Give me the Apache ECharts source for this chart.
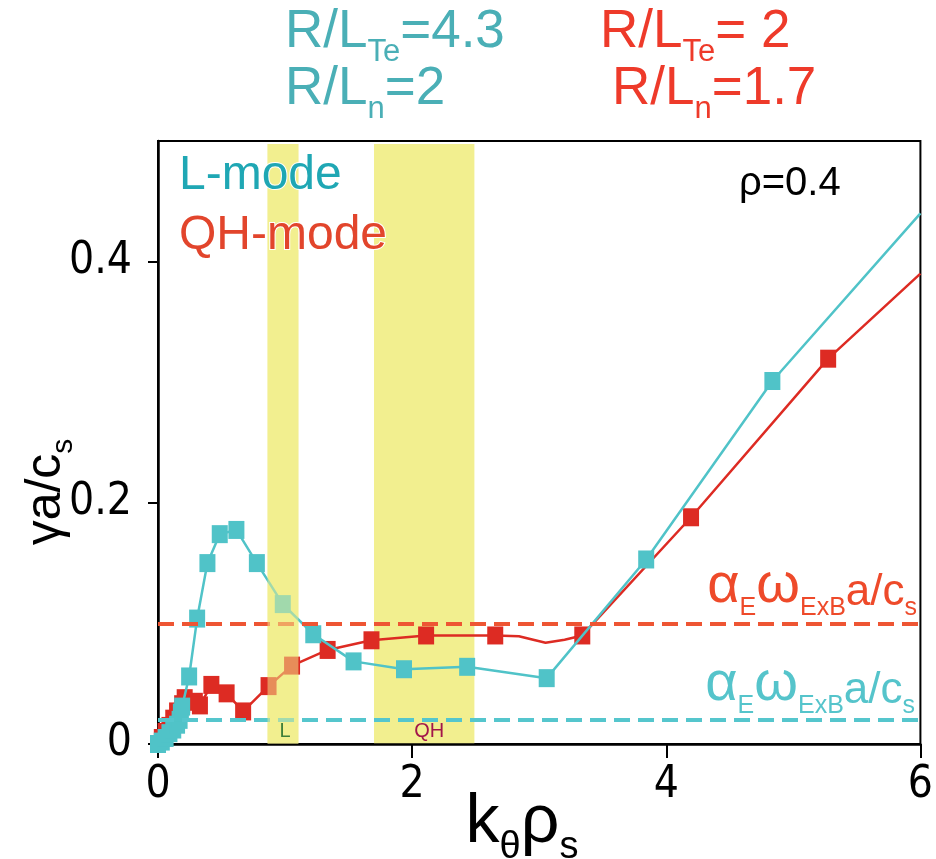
<!DOCTYPE html>
<html><head><meta charset="utf-8">
<script src="https://cdn.jsdelivr.net/npm/echarts@6/dist/echarts.min.js"></script>
<style>html,body{margin:0;padding:0;background:#fff}#c{width:936px;height:859px}</style>
</head><body><div id="c"></div>
<script>
// ---- data ----
const xTicks = [0, 2, 4, 6];
const yTicks = [0, 0.2, 0.4];
const lModeK     = [0.0, 0.03, 0.06, 0.09, 0.12, 0.15, 0.17, 0.18, 0.19, 0.245, 0.308, 0.389, 0.486, 0.617, 0.778, 0.982, 1.222, 1.539, 1.936, 2.433, 3.059, 3.842, 4.835];
const lModeGamma = [0.0, 0.002, 0.005, 0.009, 0.012, 0.016, 0.020, 0.026, 0.031, 0.056, 0.104, 0.150, 0.174, 0.1775, 0.150, 0.116, 0.091, 0.0685, 0.062, 0.064, 0.0546, 0.153, 0.301];
const lModeCurveK     = [6.0];
const lModeCurveGamma = [0.440];
const qhK     = [0.0, 0.03, 0.06, 0.09, 0.12, 0.15, 0.19, 0.21, 0.29, 0.33, 0.42, 0.54, 0.67, 0.87, 1.055, 1.335, 1.68, 2.11, 2.654, 3.339, 4.195, 5.274];
const qhGamma = [0.0, 0.005, 0.010, 0.015, 0.021, 0.027, 0.033, 0.038, 0.035, 0.032, 0.049, 0.042, 0.027, 0.048, 0.065, 0.078, 0.086, 0.090, 0.090, 0.090, 0.188, 0.3195];
const qhCurveK     = [2.84, 3.05, 3.20, 6.0];
const qhCurveGamma = [0.0893, 0.084, 0.0865, 0.390];
const exbLevels = [0.0965, 0.0225];   // QH-mode, L-mode  alpha_E * omega_ExB a/c_s
const bandNames = ['L', 'QH'];
const bandStart = [0.862, 1.70];
const bandEnd   = [1.105, 2.49];

// ---- styling ----
const CYAN = '#50C3C8', RED = '#DD2B23';
const NARROW = "'Liberation Sans Narrow','DejaVu Sans Condensed',sans-serif";
const SANS = "'Liberation Sans',Arial,sans-serif";
const Y_MIN = 0, Y_MAX = 0.5;

function lineData(k, g, ck, cg) {
  const pts = k.map((x, i) => ({ value: [x, g[i]] }));
  ck.forEach((x, i) => pts.push({ value: [x, cg[i]], symbol: 'none' }));
  pts.sort((a, b) => a.value[0] - b.value[0]);
  return pts;
}

function bandRect(fill) {
  return function (params, api) {
    const p0 = api.coord([api.value(0), Y_MAX]);
    const p1 = api.coord([api.value(1), Y_MIN]);
    return { type: 'rect', shape: { x: p0[0], y: p0[1] + 3, width: p1[0] - p0[0], height: p1[1] - p0[1] - 3 }, style: { fill: fill } };
  };
}
const bandData = bandStart.map((s, i) => [s, bandEnd[i], i]);
const bandLabelColors = ['#3F7F3A', '#A3164A'];

const mainRich = (big, sub, pad) => ({ m: { fontSize: big, verticalAlign: 'bottom', padding: [0, 0, pad, 0] }, s: { fontSize: sub, verticalAlign: 'bottom' } });

const chart = echarts.init(document.getElementById('c'), null, { renderer: 'canvas' });
chart.setOption({
  animation: false,
  backgroundColor: '#fff',
  grid: { left: 158, right: 13, top: 141, bottom: 115, show: true, borderColor: '#000', borderWidth: 2, backgroundColor: 'transparent' },
  xAxis: {
    type: 'value', min: xTicks[0], max: xTicks[xTicks.length - 1], interval: 2,
    axisLine: { lineStyle: { color: '#000', width: 2.5 } },
    axisTick: { inside: false, length: 14, lineStyle: { color: '#000', width: 2 } },
    axisLabel: { fontSize: 44, color: '#000', fontFamily: NARROW, margin: 20 },
    splitLine: { show: false }
  },
  yAxis: {
    type: 'value', min: Y_MIN, max: Y_MAX,
    axisLine: { lineStyle: { color: '#000', width: 2.5 } },
    axisTick: { inside: false, length: 10, lineStyle: { color: '#000', width: 2 }, customValues: yTicks },
    axisLabel: { fontSize: 44, color: '#000', fontFamily: NARROW, margin: 26, customValues: yTicks,
      formatter: v => (v === 0 ? '0' : v.toFixed(1)) },
    splitLine: { show: false }
  },
  series: [
    { type: 'custom', z: 0, renderItem: bandRect('#F2EF8F'), data: bandData, silent: true },
    { type: 'line', z: 1, data: [], silent: true,
      markLine: { silent: true, symbol: ['none', 'none'], label: { show: false },
        data: [
          { yAxis: exbLevels[0], lineStyle: { color: '#EE5533', type: [16, 8], width: 4 } },
          { yAxis: exbLevels[1], lineStyle: { color: '#55C6CD', type: [16, 8], width: 4 } }
        ] } },
    { name: 'QH-mode', type: 'line', z: 3, smooth: false,
      data: lineData(qhK, qhGamma, qhCurveK, qhCurveGamma),
      symbol: 'rect', symbolSize: [16, 18], showAllSymbol: true,
      lineStyle: { color: RED, width: 2.5 }, itemStyle: { color: RED } },
    { name: 'L-mode', type: 'line', z: 4, smooth: false,
      data: lineData(lModeK, lModeGamma, lModeCurveK, lModeCurveGamma),
      symbol: 'rect', symbolSize: [16, 18], showAllSymbol: true,
      lineStyle: { color: CYAN, width: 2.5 }, itemStyle: { color: CYAN } },
    { type: 'custom', z: 6, renderItem: bandRect('rgba(242,239,143,0.5)'), data: bandData.filter(d => d[2] === 0), silent: true },
    { type: 'custom', z: 7, silent: true, data: bandData,
      renderItem: function (params, api) {
        const i = api.value(2);
        const c = api.coord([(api.value(0) + api.value(1)) / 2, Y_MIN]);
        return { type: 'text', x: c[0] + (i === 1 ? 5 : 2), y: c[1] - 13,
          style: { text: bandNames[i], fill: bandLabelColors[i], fontSize: 20, fontFamily: SANS, align: 'center', verticalAlign: 'middle' } };
      } }
  ],
  graphic: [
    // top parameter labels
    { type: 'text', x: 285, y: 37, style: { text: '{m|R/L}{s|Te}{m|=4.3}', fill: '#4AAFB6', fontFamily: SANS, verticalAlign: 'middle', rich: mainRich(53, 31, 9) } },
    { type: 'text', x: 285, y: 94, style: { text: '{m|R/L}{s|n}{m|=2}', fill: '#4AAFB6', fontFamily: SANS, verticalAlign: 'middle', rich: mainRich(53, 31, 9) } },
    { type: 'text', x: 600, y: 37, style: { text: '{m|R/L}{s|Te}{m|= 2}', fill: '#EE3A2A', fontFamily: SANS, verticalAlign: 'middle', rich: mainRich(53, 31, 9) } },
    { type: 'text', x: 612, y: 94, style: { text: '{m|R/L}{s|n}{m|=1.7}', fill: '#EE3A2A', fontFamily: SANS, verticalAlign: 'middle', rich: mainRich(53, 31, 9) } },
    // legend-like labels
    { type: 'text', x: 179, y: 176, z: 10, style: { text: 'L-mode', fill: '#1FA7B4', fontSize: 48, fontFamily: SANS, verticalAlign: 'middle', stroke: '#fff', lineWidth: 2 } },
    { type: 'text', x: 179, y: 236, z: 10, style: { text: 'QH-mode', fill: '#E2452C', fontSize: 48, fontFamily: SANS, verticalAlign: 'middle', stroke: '#fff', lineWidth: 2 } },
    { type: 'text', x: 739, y: 184, z: 10, style: { text: 'ρ=0.4', fill: '#000', fontSize: 40, fontFamily: SANS, verticalAlign: 'middle' } },
    // ExB labels
    { type: 'text', x: 917, y: 590, z: 10, style: { text: '{g|α}{s|E}{g|ω}{s|ExB}{m|a/c}{s|s}', fill: '#EE4A2A', fontFamily: SANS, align: 'right', verticalAlign: 'middle',
      rich: { g: { fontSize: 56, verticalAlign: 'bottom', padding: [0, 0, 6, 0] }, m: { fontSize: 44, verticalAlign: 'bottom', padding: [0, 0, 6, 0] }, s: { fontSize: 25, verticalAlign: 'bottom' } } } },
    { type: 'text', x: 915, y: 688, z: 10, style: { text: '{g|α}{s|E}{g|ω}{s|ExB}{m|a/c}{s|s}', fill: '#55C4CB', fontFamily: SANS, align: 'right', verticalAlign: 'middle',
      rich: { g: { fontSize: 56, verticalAlign: 'bottom', padding: [0, 0, 6, 0] }, m: { fontSize: 44, verticalAlign: 'bottom', padding: [0, 0, 6, 0] }, s: { fontSize: 25, verticalAlign: 'bottom' } } } },
    // axis titles
    { type: 'text', x: 522, y: 828, style: { text: '{m|k}{s|θ}{m|ρ}{s|s}', fill: '#000', fontFamily: SANS, align: 'center', verticalAlign: 'middle', rich: mainRich(68, 38, 10) } },
    { type: 'text', x: 50, y: 492, rotation: Math.PI / 2, style: { text: '{m|γa/c}{s|s}', fill: '#000', fontFamily: SANS, align: 'center', verticalAlign: 'middle', rich: mainRich(50, 30, 7) } }
  ]
});
</script>
</body></html>
